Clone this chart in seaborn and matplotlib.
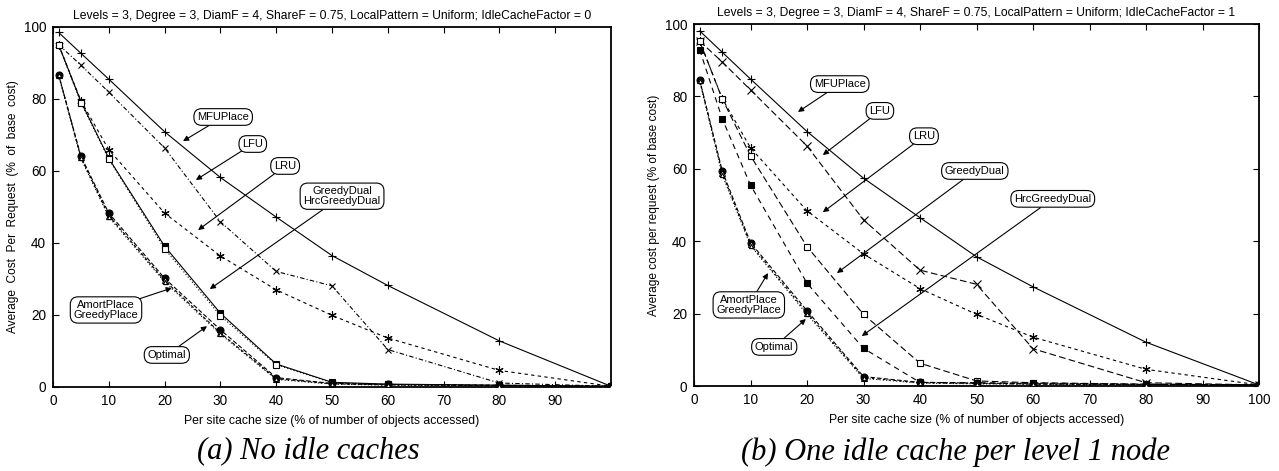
import numpy as np
import pandas as pd
import matplotlib
matplotlib.use("Agg")
import matplotlib.pyplot as plt
import seaborn as sns

# ---------------- data ----------------
cache_size = [1, 5, 10, 20, 30, 40, 50, 60, 80, 100]

# (a) IdleCacheFactor = 0
mfu_a    = [98.5, 92.7, 85.5, 70.9, 58.2, 47.2, 36.5, 28.2, 12.8, 0.2]
lfu_a    = [95.1, 89.4, 81.9, 66.4, 45.9, 32.1, 28.1, 10.4, 1.1, 0.2]
lru_a    = [95.1, 79.5, 65.9, 48.3, 36.4, 27.0, 19.9, 13.6, 4.6, 0.2]
gd_a     = [95.1, 79.3, 63.5, 39.1, 20.5, 6.4, 1.3, 0.8, 0.5, 0.2]
hgd_a    = [95.0, 79.0, 63.3, 38.4, 19.8, 6.2, 1.2, 0.7, 0.4, 0.2]
amort_a  = [86.8, 64.1, 48.3, 30.2, 15.9, 2.6, 1.0, 0.7, 0.5, 0.2]
greedy_a = [86.8, 63.8, 47.6, 29.6, 15.0, 2.3, 0.9, 0.6, 0.4, 0.2]
opt_a    = [86.6, 63.5, 47.2, 29.2, 14.7, 2.1, 0.8, 0.5, 0.3, 0.2]

# (b) IdleCacheFactor = 1
mfu_b    = [98.1, 92.2, 84.8, 70.3, 57.4, 46.5, 35.7, 27.4, 12.1, 0.3]
lfu_b    = [95.3, 89.5, 81.8, 66.3, 45.9, 32.0, 28.1, 10.3, 0.9, 0.3]
lru_b    = [95.3, 79.4, 65.8, 48.4, 36.5, 26.9, 19.8, 13.5, 4.6, 0.3]
gd_b     = [95.3, 79.3, 63.6, 38.5, 19.8, 6.3, 1.4, 0.9, 0.5, 0.3]
hgd_b    = [92.9, 73.8, 55.5, 28.4, 10.4, 1.0, 0.9, 0.8, 0.5, 0.3]
amort_b  = [84.6, 59.4, 39.6, 20.8, 2.6, 1.0, 0.8, 0.6, 0.4, 0.3]
greedy_b = [84.5, 58.8, 39.1, 20.2, 2.3, 0.9, 0.7, 0.5, 0.4, 0.3]
opt_b    = [84.3, 58.3, 38.8, 19.8, 2.1, 0.8, 0.6, 0.5, 0.3, 0.3]

titles = [
    "Levels = 3, Degree = 3, DiamF = 4, ShareF = 0.75, LocalPattern = Uniform; IdleCacheFactor = 0",
    "Levels = 3, Degree = 3, DiamF = 4, ShareF = 0.75, LocalPattern = Uniform; IdleCacheFactor = 1",
]
ylabels = [
    "Average  Cost  Per  Request  (%  of  base  cost)",
    "Average cost per request (% of base cost)",
]
xlabel = "Per site cache size (% of number of objects accessed)"
captions = ["(a) No idle caches", "(b) One idle cache per level 1 node"]

# ---------------- styling ----------------
sns.set_style("ticks")
plt.rcParams["font.family"] = ["Liberation Sans", "DejaVu Sans"]
for k in ["text.color", "axes.labelcolor", "xtick.color", "ytick.color", "axes.edgecolor"]:
    plt.rcParams[k] = "black"

ASTER = (6, 2, 0)
styles_a = {
    "MFUPlace":      dict(ls="-",              marker="+", ms=6, mfc="black"),
    "LFU":           dict(ls=(0, (4, 2, 1, 2)), marker="x", ms=5, mfc="black"),
    "LRU":           dict(ls=(0, (3, 3)),      marker=ASTER, ms=6, mfc="black"),
    "GreedyDual":    dict(ls="-",              marker="s", ms=5, mfc="black"),
    "HrcGreedyDual": dict(ls=(0, (1, 2)),      marker="s", ms=4, mfc="white"),
    "AmortPlace":    dict(ls=(0, (4, 2)),      marker="o", ms=5, mfc="black"),
    "GreedyPlace":   dict(ls=(0, (3, 2)),      marker="^", ms=4, mfc="white"),
    "Optimal":       dict(ls=(0, (1, 2)),      marker="^", ms=3, mfc="white"),
}
styles_b = {
    "MFUPlace":      dict(ls="-",              marker="+", ms=6, mfc="black"),
    "LFU":           dict(ls=(0, (6, 3)),      marker="x", ms=6, mfc="black"),
    "LRU":           dict(ls=(0, (3, 3)),      marker=ASTER, ms=6, mfc="black"),
    "GreedyDual":    dict(ls=(0, (6, 3)),      marker="s", ms=4.5, mfc="white"),
    "HrcGreedyDual": dict(ls=(0, (5, 4)),      marker="s", ms=5, mfc="black"),
    "AmortPlace":    dict(ls=(0, (4, 2)),      marker="o", ms=5, mfc="black"),
    "GreedyPlace":   dict(ls=(0, (2, 3)),      marker="^", ms=4, mfc="white"),
    "Optimal":       dict(ls=(0, (1, 2)),      marker="^", ms=3, mfc="white"),
}

series_a = {"MFUPlace": mfu_a, "LFU": lfu_a, "LRU": lru_a, "GreedyDual": gd_a,
            "HrcGreedyDual": hgd_a, "AmortPlace": amort_a, "GreedyPlace": greedy_a,
            "Optimal": opt_a}
series_b = {"MFUPlace": mfu_b, "LFU": lfu_b, "LRU": lru_b, "GreedyDual": gd_b,
            "HrcGreedyDual": hgd_b, "AmortPlace": amort_b, "GreedyPlace": greedy_b,
            "Optimal": opt_b}

# label boxes: (text, box center, arrow tip) in data coordinates
notes_a = [
    ("MFUPlace", (30.5, 75.0), (23.3, 68.3)),
    ("LFU", (35.8, 67.5), (25.6, 57.5)),
    ("LRU", (41.6, 61.4), (26.0, 43.6)),
    ("GreedyDual\nHrcGreedyDual", (51.8, 53.0), (28.1, 27.2)),
    ("AmortPlace\nGreedyPlace", (9.5, 21.4), (21.3, 27.5)),
    ("Optimal", (20.4, 8.9), (27.6, 16.9)),
]
notes_b = [
    ("MFUPlace", (25.8, 83.4), (18.4, 75.7)),
    ("LFU", (32.9, 76.0), (22.8, 63.8)),
    ("LRU", (40.7, 69.0), (22.8, 48.0)),
    ("GreedyDual", (49.7, 59.4), (25.3, 31.2)),
    ("HrcGreedyDual", (63.5, 51.7), (29.7, 13.8)),
    ("AmortPlace\nGreedyPlace", (9.7, 22.4), (13.1, 31.2)),
    ("Optimal", (14.2, 10.8), (19.8, 18.5)),
]

W, H = 1279, 471
fig = plt.figure(figsize=(W / 100, H / 100), dpi=100)
ax_a = fig.add_axes([53 / W, 1 - 387 / H, 558 / W, 360 / H])
ax_b = fig.add_axes([694 / W, 1 - 386 / H, 565 / W, 362 / H])

panels = [
    (ax_a, series_a, styles_a, notes_a, np.arange(0, 100, 10)),
    (ax_b, series_b, styles_b, notes_b, np.arange(0, 101, 10)),
]

for i, (ax, series, styles, notes, xt) in enumerate(panels):
    for name, vals in series.items():
        st = styles[name]
        df = pd.DataFrame({"x": cache_size, "y": vals})
        sns.lineplot(data=df, x="x", y="y", ax=ax, color="black", lw=0.8,
                     linestyle=st["ls"], marker=st["marker"], markersize=st["ms"],
                     markerfacecolor=st["mfc"], markeredgecolor="black",
                     markeredgewidth=0.8, sort=False, legend=False, zorder=3)
    ax.set_xlim(0, 100)
    ax.set_ylim(0, 100)
    ax.set_xticks(xt)
    ax.set_yticks(np.arange(0, 101, 20))
    ax.tick_params(direction="in", length=4, width=0.8, labelsize=9.8,
                   top=True, right=(i == 1), pad=5)
    for sp in ax.spines.values():
        sp.set_visible(True)
        sp.set_linewidth(1.3)
        sp.set_color("black")
    ax.set_xlabel(xlabel, fontsize=8.8, labelpad=5)
    ax.set_ylabel(ylabels[i], fontsize=8.6, labelpad=3)
    ax.set_title(titles[i], fontsize=8.7, pad=6)
    for text, c, tip in notes:
        ax.annotate(text, xy=tip, xytext=c, ha="center", va="center",
                    fontsize=8, linespacing=0.95, zorder=5,
                    bbox=dict(boxstyle="round,pad=0.3,rounding_size=0.7",
                              fc="white", ec="black", lw=0.8),
                    arrowprops=dict(arrowstyle="-|>", color="black", lw=0.8,
                                    mutation_scale=8, shrinkA=0, shrinkB=0))

fig.text(308 / W, 1 - 452 / H, captions[0], ha="center", va="center",
         fontsize=22, style="italic", family="Liberation Serif")
fig.text(956 / W, 1 - 452 / H, captions[1], ha="center", va="center",
         fontsize=22, style="italic", family="Liberation Serif")

fig.savefig("out.png", dpi=100)
